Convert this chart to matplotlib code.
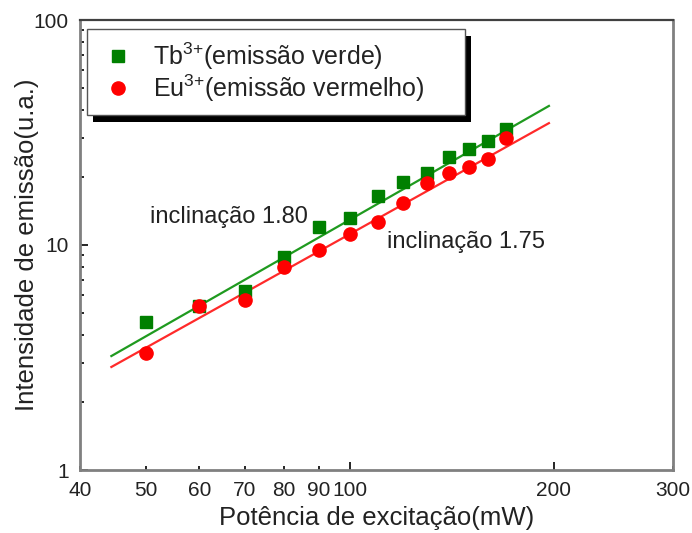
import matplotlib
matplotlib.use("Agg")
import matplotlib.pyplot as plt
from matplotlib.patches import Rectangle
from matplotlib.ticker import FixedLocator, NullFormatter

plt.rcParams['font.family'] = ['Liberation Sans', 'DejaVu Sans']
plt.rcParams['mathtext.default'] = 'regular'

# excitation power (mW)
power = [50, 60, 70, 80, 90, 100, 110, 120, 130, 140, 150, 160, 170]
# emission intensity (a.u.)
tb_green = [4.55, 5.36, 6.25, 8.85, 12.0, 13.2, 16.5, 19.1, 20.9, 24.6, 26.7, 29.0, 32.8]
eu_red = [3.31, 5.36, 5.70, 7.98, 9.5, 11.2, 12.7, 15.4, 18.9, 20.9, 22.2, 24.1, 29.9]

# fitted lines (end points)
fit_x = [44.5, 196.8]
fit_tb = [3.21, 41.5]
fit_eu = [2.87, 34.8]

x_major = [100, 200]
x_minor = [40, 50, 60, 70, 80, 90, 300]

fig = plt.figure(figsize=(6.92, 5.33), dpi=100)
ax = fig.add_axes([80 / 692, 63 / 533, 593 / 692, 450 / 533])

ax.plot(fit_x, fit_tb, color='#1f9a1f', lw=1.6, zorder=2)
ax.plot(fit_x, fit_eu, color='#ff2a2a', lw=1.6, zorder=2)
ax.plot(power, tb_green, ls='none', marker='s', ms=8.5, color='#008000',
        label=r'Tb$^{3{+}}$(emissão verde)', zorder=3)
ax.plot(power, eu_red, ls='none', marker='o', ms=9.5, color='#ff0000',
        label=r'Eu$^{3{+}}$(emissão vermelho)', zorder=3)

ax.set_xscale('log')
ax.set_yscale('log')
ax.set_xlim(40, 300)
ax.set_ylim(1, 100)

ax.xaxis.set_major_locator(FixedLocator(x_major))
ax.xaxis.set_minor_locator(FixedLocator(x_minor))
ax.set_xticklabels([str(v) for v in x_major])
ax.set_xticklabels([str(v) for v in x_minor], minor=True)
ax.set_yticks([1, 10, 100])
ax.set_yticklabels(['1', '10', '100'])
ax.yaxis.set_minor_formatter(NullFormatter())

ax.tick_params(which='both', direction='in', top=False, right=False,
               labelsize=15, pad=8, color='black', labelcolor='#222222')
ax.tick_params(which='major', length=6, width=1.2)
ax.tick_params(which='minor', length=3, width=1.2)

for side in ['left', 'bottom', 'right']:
    ax.spines[side].set_color('#808080')
    ax.spines[side].set_linewidth(2)
ax.spines['top'].set_color('#404040')
ax.spines['top'].set_linewidth(1.6)

ax.set_xlabel('Potência de excitação(mW)', fontsize=18.5, labelpad=4, color='#222222')
ax.set_ylabel('Intensidade de emissão(u.a.)', fontsize=18.5, labelpad=-4, color='#222222')

ax.text(50.7, 13.3, 'inclinação 1.80', fontsize=17, ha='left', va='center', color='#222222')
ax.text(113.5, 10.3, 'inclinação 1.75', fontsize=17, ha='left', va='center', color='#222222')

leg = ax.legend(loc='upper left',
                bbox_to_anchor=(87 / 692, 1 - 29 / 533, (465 - 87) / 692, 0),
                bbox_transform=fig.transFigure, mode='expand', borderaxespad=0,
                fontsize=18, fancybox=False, framealpha=1, edgecolor='#555555',
                borderpad=0.45, handlelength=1.6, handletextpad=0.6, labelspacing=0.02)
leg.get_frame().set_linewidth(1.0)
leg.set_zorder(5)
for t in leg.get_texts():
    t.set_color('#222222')

# black drop shadow behind the legend box
fig.canvas.draw()
bb = leg.get_window_extent()
shadow = Rectangle((bb.x0 + 6, bb.y0 - 7), bb.width, bb.height, transform=None,
                   facecolor='black', edgecolor='none', zorder=4)
ax.add_artist(shadow)

fig.savefig('out.png', dpi=100)
